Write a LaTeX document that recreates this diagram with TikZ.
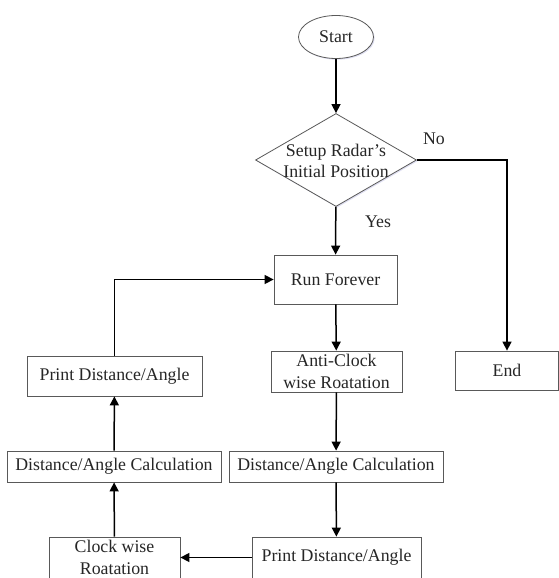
\documentclass[tikz,border=0pt]{standalone}
\usepackage{fontspec}
\setmainfont{Liberation Serif}
\usetikzlibrary{shapes.geometric,arrows.meta,shadows}
\begin{document}
\begin{tikzpicture}[x=1pt,y=-1pt,
  every node/.style={font=\fontsize{17.8}{21.5}\selectfont, text=black!85},
  boxshadow/.style={drop shadow={opacity=0.18, shadow xshift=1.2pt, shadow yshift=-1.2pt, fill=blue!40!gray}},
  procbox/.style={draw=black!65, line width=0.8pt, fill=white, rectangle, inner sep=0pt, align=center, boxshadow},
  flow/.style={line width=1.5pt, draw=black, -{Triangle[length=9pt,width=9pt]}},
  lbl/.style={inner sep=0pt}
]
\useasboundingbox (0,0) rectangle (559,578);

\node[ellipse, draw=black!65, line width=0.8pt, fill=white, minimum width=75pt, minimum height=43pt, inner sep=0pt, boxshadow] (start) at (336,37) {Start};
\node[diamond, draw=black!65, line width=0.8pt, fill=white, minimum width=161pt, minimum height=93pt, inner sep=0pt, boxshadow] (dec) at (336,160) {};
\node[align=center, inner sep=0pt] (dectxt) at (336,161) {Setup Radar’s\\Initial Position};

\node[procbox, minimum width=123pt, minimum height=49pt] (run) at (335.5,279.5) {Run Forever};
\node[procbox, minimum width=131pt, minimum height=41pt] (anti) at (336.5,371.5) {Anti-Clock\\wise Roatation};
\node[procbox, minimum width=103pt, minimum height=39pt] (end) at (507,370.5) {End};
\node[procbox, minimum width=214pt, minimum height=31pt] (calcR) at (336,466.5) {Distance/Angle Calculation};
\node[procbox, minimum width=169pt, minimum height=41pt] (printR) at (336.5,557.5) {Print Distance/Angle};

\node[procbox, minimum width=175pt, minimum height=40pt] (printL) at (114.5,376) {Print Distance/Angle};
\node[procbox, minimum width=214pt, minimum height=31pt] (calcL) at (114,466.5) {Distance/Angle Calculation};
\node[procbox, minimum width=131pt, minimum height=41pt] (clock) at (114.5,557.5) {Clock wise\\Roatation};

\node[lbl] (no) at (434,139) {No};
\node[lbl] (yes) at (378,222) {Yes};

\draw[flow] (start) -- (dec);
\draw[flow] (dec) -- (run);
\draw[flow] (dec.east) -| (end.north);
\draw[flow] (run) -- (anti);
\draw[flow] (anti) -- (calcR);
\draw[flow] (calcR) -- (printR);
\draw[flow] (printR) -- (clock);
\draw[flow] (clock) -- (calcL);
\draw[flow] (calcL) -- (printL);
\draw[flow] (printL.north) |- (run.west);
\end{tikzpicture}
\end{document}
